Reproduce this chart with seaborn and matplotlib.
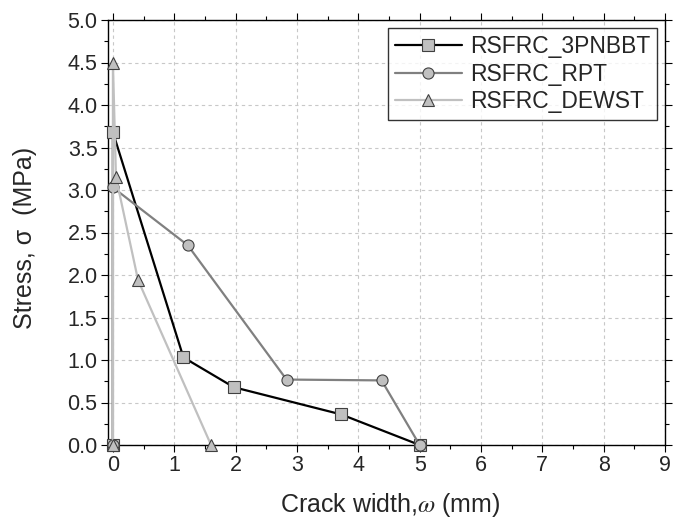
import matplotlib
matplotlib.use("Agg")
import matplotlib.pyplot as plt
import seaborn as sns
import pandas as pd
from matplotlib.ticker import MultipleLocator, FormatStrFormatter

# Data
x_3pnbbt = [0.0, 0.0, 1.15, 1.97, 3.72, 5.0]
y_3pnbbt = [0.0, 3.68, 1.03, 0.68, 0.36, 0.0]
x_rpt = [0.0, 0.0, 1.22, 2.83, 4.38, 5.0]
y_rpt = [0.0, 3.03, 2.35, 0.77, 0.76, 0.0]
x_dewst = [0.0, 0.0, 0.05, 0.41, 1.6]
y_dewst = [0.0, 4.5, 3.15, 1.94, 0.0]
names = ["RSFRC_3PNBBT", "RSFRC_RPT", "RSFRC_DEWST"]

sns.set_style("white")
plt.rcParams['font.family'] = ['Liberation Sans', 'DejaVu Sans']
plt.rcParams['mathtext.fontset'] = 'stix'

W, H = 673, 520
L, R, T, B = 108, 665, 20, 445
fig = plt.figure(figsize=(W/100, H/100), dpi=100)
ax = fig.add_axes([L/W, 1-B/H, (R-L)/W, (B-T)/H])

series = [
    (x_3pnbbt, y_3pnbbt, names[0], 'black', 's'),
    (x_rpt, y_rpt, names[1], '#808080', 'o'),
    (x_dewst, y_dewst, names[2], '#c0c0c0', '^'),
]
for xs, ys, name, col, mk in series:
    df = pd.DataFrame({"x": xs, "y": ys})
    sns.lineplot(data=df, x="x", y="y", ax=ax, sort=False, estimator=None,
                 color=col, linewidth=1.6, marker=mk, markersize=8,
                 markerfacecolor='#c0c0c0', markeredgecolor='#404040',
                 markeredgewidth=0.8, label=name, clip_on=False, zorder=3)

ax.set_xlim(-0.08, 9)
ax.set_ylim(0, 5)
ax.xaxis.set_major_locator(MultipleLocator(1))
ax.xaxis.set_minor_locator(MultipleLocator(0.5))
ax.yaxis.set_major_locator(MultipleLocator(0.5))
ax.yaxis.set_minor_locator(MultipleLocator(0.25))
ax.yaxis.set_major_formatter(FormatStrFormatter('%.1f'))
ax.tick_params(which='both', direction='out', top=True, right=True, left=True, bottom=True,
               labelsize=15.5, color='black')
ax.tick_params(which='major', length=5, width=0.8, pad=2.5)
ax.tick_params(which='minor', length=3, width=0.8)
for s in ax.spines.values():
    s.set_color('black')
    s.set_linewidth(1.0)
ax.grid(True, which='major', linestyle=(0, (3, 3)), color='#c8c8c8', linewidth=0.8)
ax.set_axisbelow(True)

ax.set_xlabel("Crack width,$\\omega$ (mm)", fontsize=18)
ax.set_ylabel("Stress, σ  (MPa)", fontsize=18)
ax.xaxis.set_label_coords((390 - L) / (R - L), (B - 491) / (B - T))
ax.yaxis.set_label_coords((37 - L) / (R - L), (B - 238) / (B - T))

leg = ax.legend(loc='upper right', fontsize=16.5, frameon=True, fancybox=False,
                edgecolor='black', borderaxespad=0.36, handlelength=2.9,
                labelspacing=0.2, borderpad=0.3, handletextpad=0.35)
leg.get_frame().set_linewidth(1.0)

fig.savefig("out.png", dpi=100)
